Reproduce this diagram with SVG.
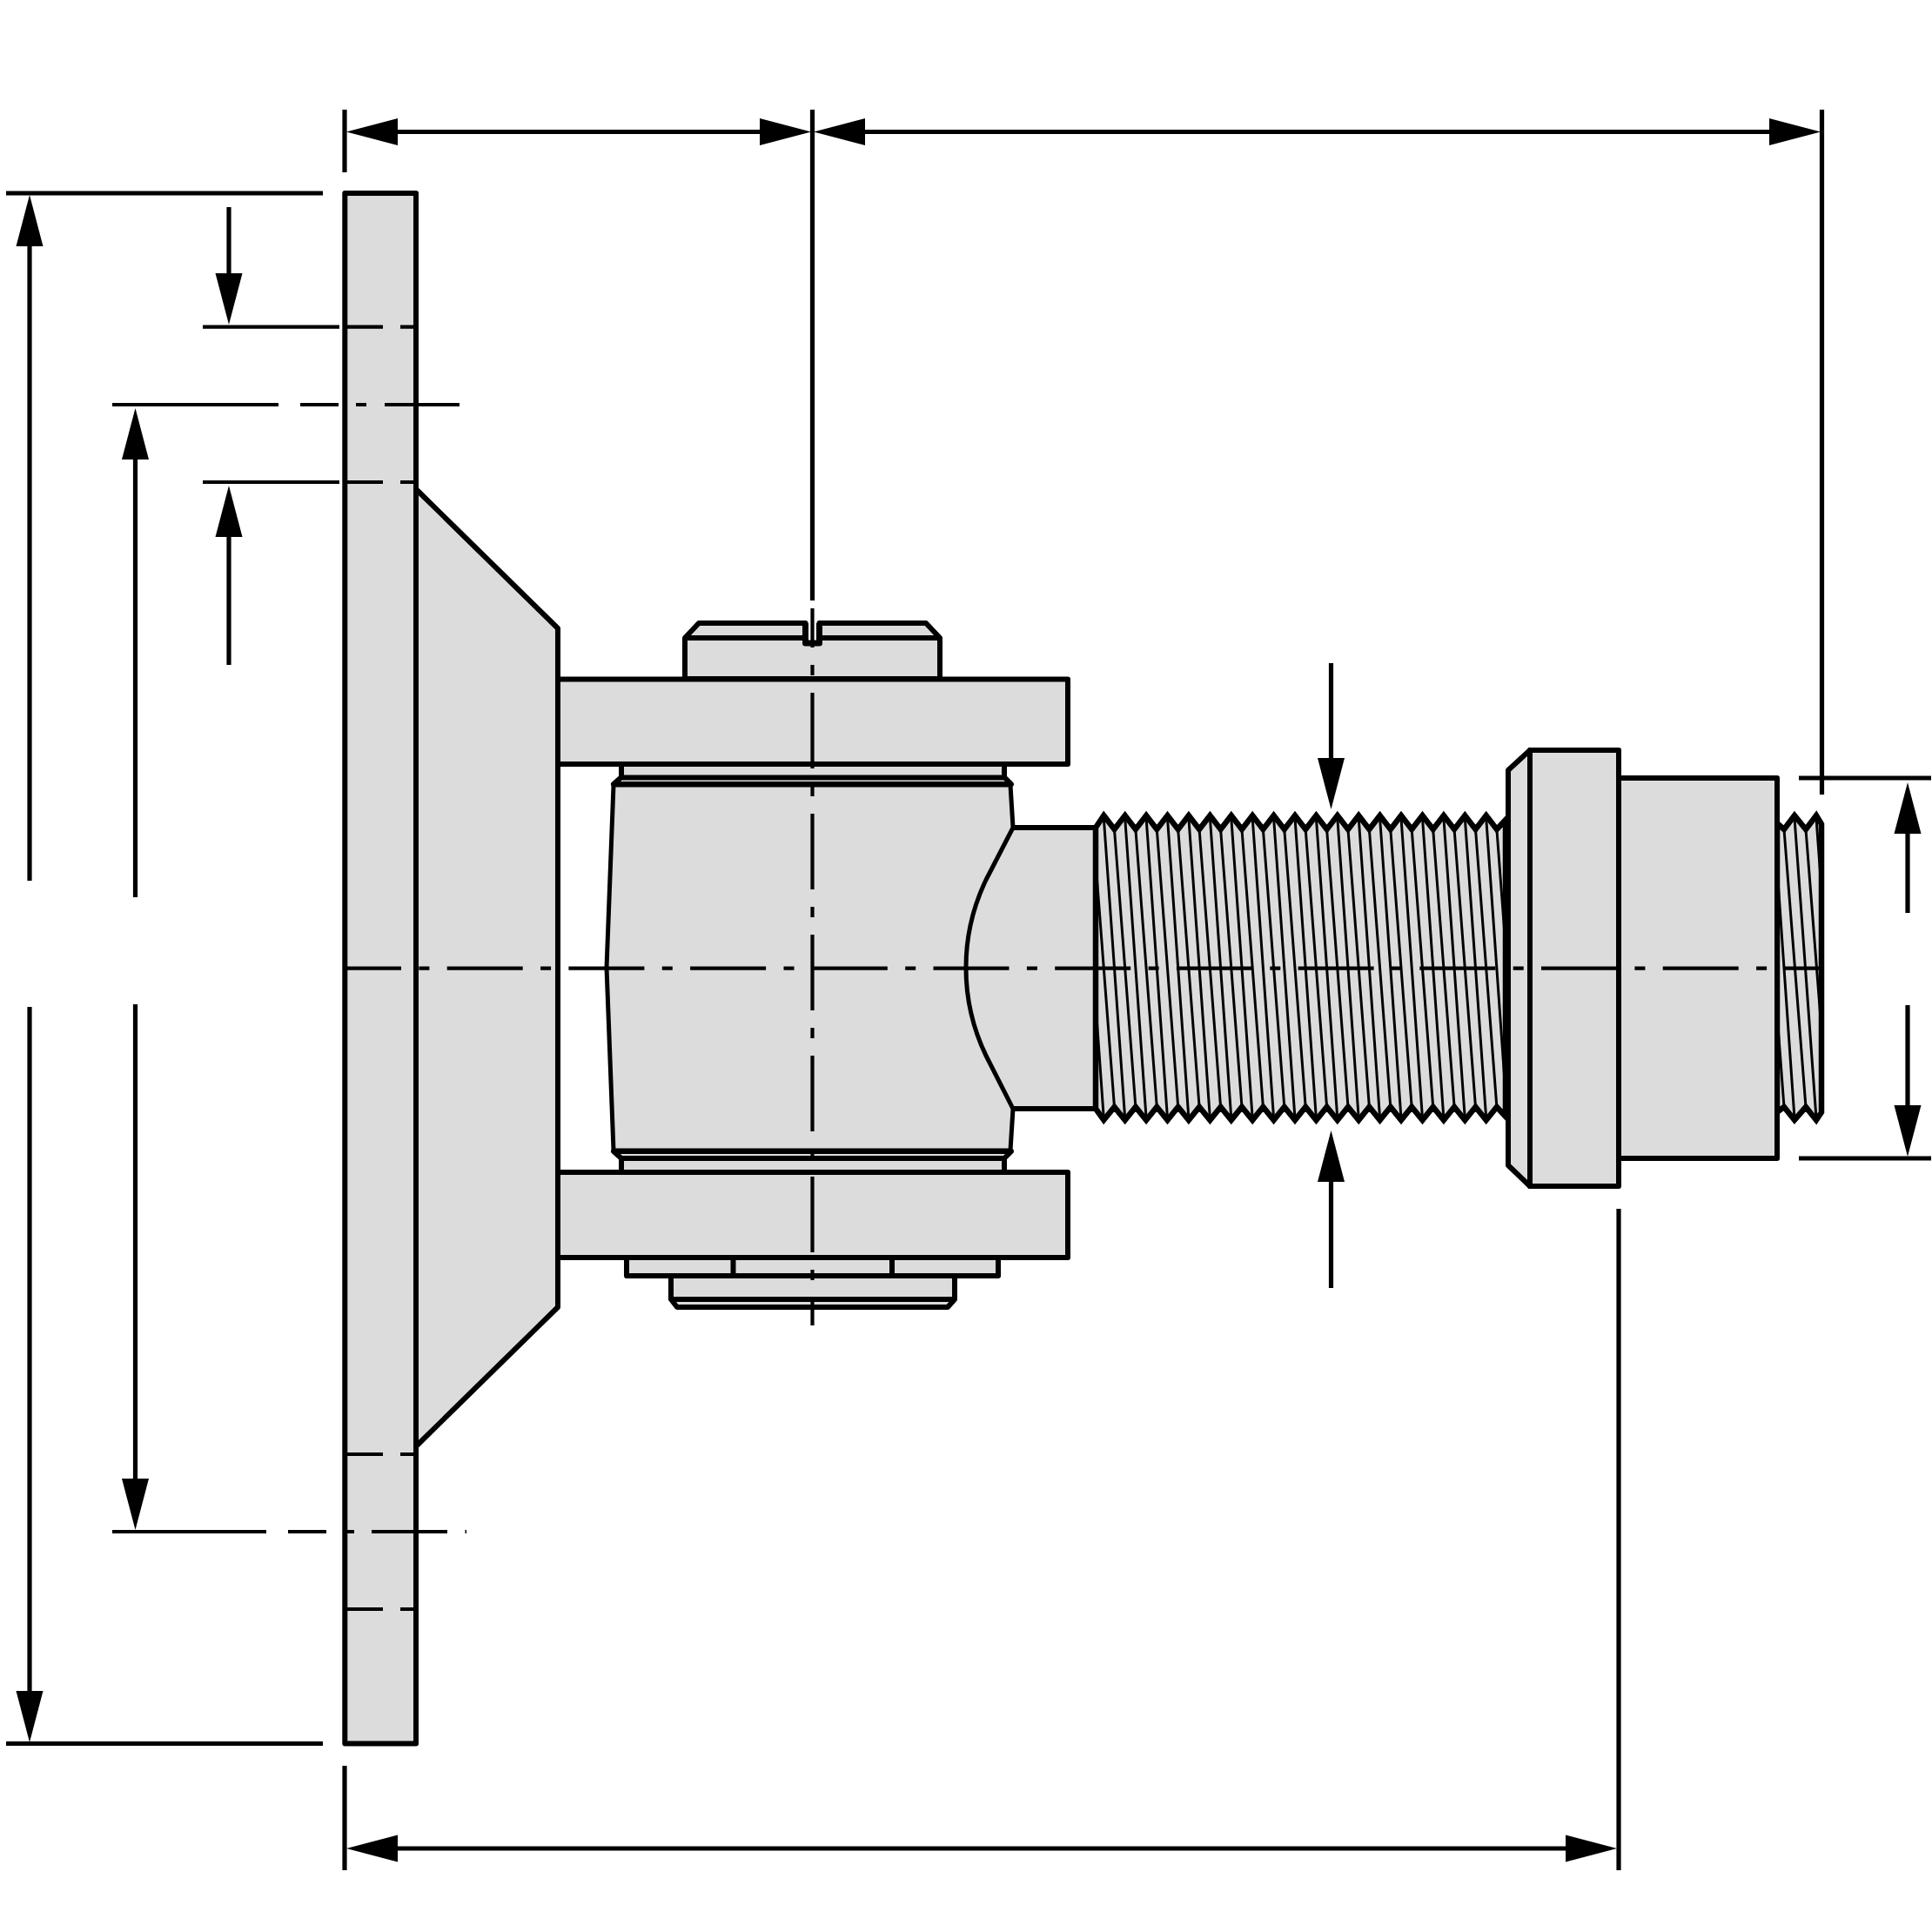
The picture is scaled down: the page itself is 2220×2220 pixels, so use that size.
<svg xmlns="http://www.w3.org/2000/svg" width="2220" height="2220" viewBox="0 0 2220 2220">
<style>
.p{fill:#dcdcdc;stroke:#000;stroke-width:6;stroke-linejoin:round}
.t{fill:#dcdcdc;stroke:#000;stroke-width:6.5;stroke-linejoin:miter}
.o{fill:none;stroke:#000;stroke-width:6;stroke-linejoin:round}
.h{fill:none;stroke:#000;stroke-width:3}
.d{fill:none;stroke:#000;stroke-width:5.2}
.c{fill:none;stroke:#000;stroke-width:4.2}
</style>
<defs>
<polygon id="ah" points="0,0 15.5,59 -15.5,59" fill="#000"/>
<clipPath id="tc"><path d="M1259,951L1268.3,937L1280.5,953L1292.7,937L1304.9,953L1317.1,937L1329.3,953L1341.5,937L1353.7,953L1365.9,937L1378.1,953L1390.4,937L1402.6,953L1414.8,937L1427,953L1439.2,937L1451.4,953L1463.6,937L1475.8,953L1488,937L1500.2,953L1512.4,937L1524.6,953L1536.8,937L1549,953L1561.2,937L1573.4,953L1585.6,937L1597.8,953L1610,937L1622.2,953L1634.5,937L1646.7,953L1658.9,937L1671.1,953L1683.3,937L1695.5,953L1707.7,937L1719.9,953L1730,942V1283L1719.9,1272L1707.7,1287L1695.5,1272L1683.3,1287L1671.1,1272L1658.9,1287L1646.7,1272L1634.5,1287L1622.2,1272L1610,1287L1597.8,1272L1585.6,1287L1573.4,1272L1561.2,1287L1549,1272L1536.8,1287L1524.6,1272L1512.4,1287L1500.2,1272L1488,1287L1475.8,1272L1463.6,1287L1451.4,1272L1439.2,1287L1427,1272L1414.8,1287L1402.6,1272L1390.4,1287L1378.1,1272L1365.9,1287L1353.7,1272L1341.5,1287L1329.3,1272L1317.1,1287L1304.9,1272L1292.7,1287L1280.5,1272L1268.3,1287L1259,1274Z"/></clipPath>
<clipPath id="sc"><path d="M2042,946L2050,953L2062,937L2075,953L2087,937L2093,947V1278L2087,1287L2075,1272L2062,1287L2050,1272L2042,1278Z"/></clipPath>
</defs>

<g id="collars">
<path class="p" d="M714,878V893L705,901H1162L1154,893V878Z"/>
<path class="o" d="M714,893.5H1154"/>
<path class="o" style="stroke-width:7" d="M705,902H1162"/>
<path class="p" d="M714,1347V1331L705,1323H1162L1154,1331V1347Z"/>
<path class="o" d="M714,1331H1154"/>
<path class="o" d="M705,1323H1162"/>
</g>

<g id="stem">
<rect x="1100" y="951" width="159" height="323" fill="#dcdcdc"/>
<path class="o" d="M1164,951H1259V1274H1164"/>
</g>

<g id="body">
<path class="p" style="stroke-width:5" d="M705,902L697,1112L705,1322H1161L1164,1274L1133,1213A233,233 0 0 1 1133,1011L1164,951L1161,902Z"/>
</g>

<g id="thread">
<path class="t" d="M1259,951L1268.3,937L1280.5,953L1292.7,937L1304.9,953L1317.1,937L1329.3,953L1341.5,937L1353.7,953L1365.9,937L1378.1,953L1390.4,937L1402.6,953L1414.8,937L1427,953L1439.2,937L1451.4,953L1463.6,937L1475.8,953L1488,937L1500.2,953L1512.4,937L1524.6,953L1536.8,937L1549,953L1561.2,937L1573.4,953L1585.6,937L1597.8,953L1610,937L1622.2,953L1634.5,937L1646.7,953L1658.9,937L1671.1,953L1683.3,937L1695.5,953L1707.7,937L1719.9,953L1730,942V1283L1719.9,1272L1707.7,1287L1695.5,1272L1683.3,1287L1671.1,1272L1658.9,1287L1646.7,1272L1634.5,1287L1622.2,1272L1610,1287L1597.8,1272L1585.6,1287L1573.4,1272L1561.2,1287L1549,1272L1536.8,1287L1524.6,1272L1512.4,1287L1500.2,1272L1488,1287L1475.8,1272L1463.6,1287L1451.4,1272L1439.2,1287L1427,1272L1414.8,1287L1402.6,1272L1390.4,1287L1378.1,1272L1365.9,1287L1353.7,1272L1341.5,1287L1329.3,1272L1317.1,1287L1304.9,1272L1292.7,1287L1280.5,1272L1268.3,1287L1259,1274Z"/>
<path class="h" clip-path="url(#tc)" d="M1243.9,940L1268.3,1285M1256.1,953L1280.5,1272M1268.3,940L1292.7,1285M1280.5,953L1304.9,1272M1292.7,940L1317.1,1285M1304.9,953L1329.3,1272M1317.1,940L1341.5,1285M1329.3,953L1353.7,1272M1341.5,940L1365.9,1285M1353.7,953L1378.1,1272M1365.9,940L1390.4,1285M1378.1,953L1402.6,1272M1390.4,940L1414.8,1285M1402.6,953L1427,1272M1414.8,940L1439.2,1285M1427,953L1451.4,1272M1439.2,940L1463.6,1285M1451.4,953L1475.8,1272M1463.6,940L1488,1285M1475.8,953L1500.2,1272M1488,940L1512.4,1285M1500.2,953L1524.6,1272M1512.4,940L1536.8,1285M1524.6,953L1549,1272M1536.8,940L1561.2,1285M1549,953L1573.4,1272M1561.2,940L1585.6,1285M1573.4,953L1597.8,1272M1585.6,940L1610,1285M1597.8,953L1622.2,1272M1610,940L1634.5,1285M1622.2,953L1646.7,1272M1634.5,940L1658.9,1285M1646.7,953L1671.1,1272M1658.9,940L1683.3,1285M1671.1,953L1695.5,1272M1683.3,940L1707.7,1285M1695.5,953L1719.9,1272M1707.7,940L1732,1285M1719.9,953L1744,1272"/>
</g>

<g id="stub-thread">
<path class="t" d="M2042,946L2050,953L2062,937L2075,953L2087,937L2093,947V1278L2087,1287L2075,1272L2062,1287L2050,1272L2042,1278Z"/>
<path class="h" clip-path="url(#sc)" d="M2026,953L2050,1272M2038,940L2062,1285M2050,953L2075,1272M2062,940L2087,1285M2075,953L2100,1272M2087,940L2112,1285"/>
</g>

<g id="flange">
<path class="p" d="M1733,885L1758,862V1363L1733,1339Z"/>
<rect class="p" x="1758" y="862" width="102" height="501"/>
</g>

<g id="hub">
<rect class="p" x="1860" y="894" width="182" height="437"/>
</g>

<g id="nut">
<path class="p" d="M787,780V733L803,716H925.5V739H941.5V716H1064L1080,733V780Z"/>
<path class="o" d="M787,733H925.5M941.5,733H1080"/>
<path class="o" style="stroke-width:7" d="M925.5,716V739H941.5V716"/>
</g>

<g id="washers">
<path class="p" d="M771,1466V1493L778,1502H1089L1097,1493V1466Z"/>
<path class="o" d="M771,1493H1097"/>
<rect class="p" x="720" y="1445" width="427" height="21"/>
<path class="o" d="M842.5,1445V1466M1025,1445V1466"/>
</g>

<g id="upper-arm"><rect class="p" x="641" y="780.5" width="586" height="97.5"/></g>
<g id="lower-arm"><rect class="p" x="641" y="1347" width="586" height="98"/></g>

<g id="gusset">
<path class="p" d="M478,562L641,722V1502L478,1662Z"/>
</g>

<g id="base-plate">
<rect class="p" x="396.3" y="222" width="81.7" height="1781.5"/>
</g>

<g id="connectors">
<path class="c" stroke-dasharray="87 20.4 12 20.3" stroke-dashoffset="25" d="M399,1112.7H2090"/>
<path class="c" stroke-dasharray="87 20 12 20" stroke-dashoffset="42" d="M933.5,699V1523"/>
<path class="d" d="M933.5,126V690"/>

<path class="d" d="M396,126V198M2093.5,126V913M7,222H371M7,2003.5H371M2067,894H2219M2067,1331H2219M396,2029V2149M1860,1389V2149"/>
<path class="c" d="M233,375.7H390M399,375.7H440M460,375.7H476M233,554H390M399,554H440M460,554H476M129,465H320M345,465H389M409,465H421M442,465H528M399,1671H440M460,1671H476M129,1760H306M331,1760H375M399,1760H407M427,1760H514M534.5,1760H536M399,1849H440M460,1849H476"/>

<path class="d" d="M457,151.5H873M994,151.5H2033M457,2124H1799M34,283V1012M34,1157V1943M155.5,528V1031M155.5,1154V1701M263,238V314M263,617V764M1529.5,762V871M1529.5,1358V1480M2192,957V1049M2192,1155V1270"/>
<use href="#ah" transform="translate(398,151.5) rotate(-90)"/>
<use href="#ah" transform="translate(932,151.5) rotate(90)"/>
<use href="#ah" transform="translate(935,151.5) rotate(-90)"/>
<use href="#ah" transform="translate(2092,151.5) rotate(90)"/>
<use href="#ah" transform="translate(398,2124) rotate(-90)"/>
<use href="#ah" transform="translate(1858,2124) rotate(90)"/>
<use href="#ah" transform="translate(34,224)"/>
<use href="#ah" transform="translate(34,2002) rotate(180)"/>
<use href="#ah" transform="translate(155.5,469)"/>
<use href="#ah" transform="translate(155.5,1758) rotate(180)"/>
<use href="#ah" transform="translate(263,373) rotate(180)"/>
<use href="#ah" transform="translate(263,558)"/>
<use href="#ah" transform="translate(1529.5,930) rotate(180)"/>
<use href="#ah" transform="translate(1529.5,1299)"/>
<use href="#ah" transform="translate(2192,899)"/>
<use href="#ah" transform="translate(2192,1329) rotate(180)"/>
</g>
</svg>
